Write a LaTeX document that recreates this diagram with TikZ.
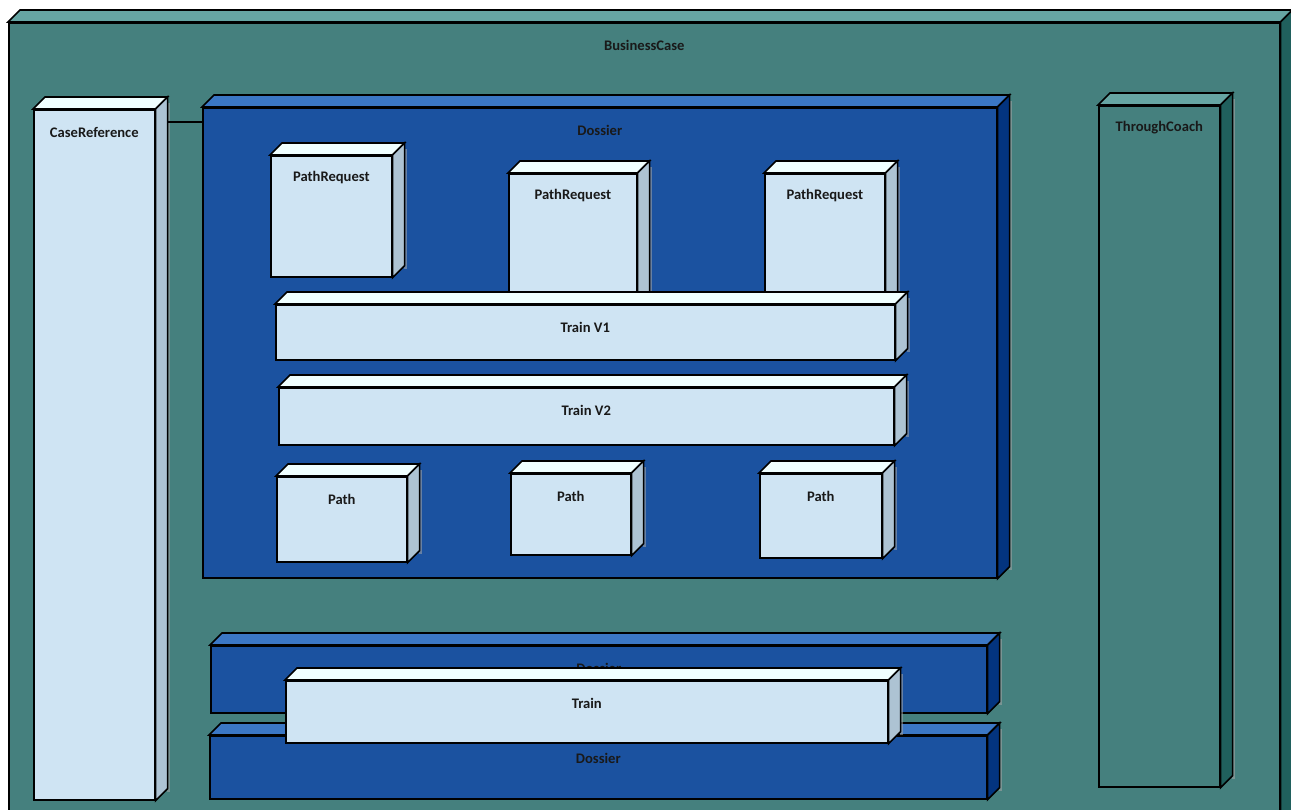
\documentclass[tikz,border=0pt]{standalone}
\usepackage{fontspec}
\setmainfont{Carlito}
\usetikzlibrary{calc}

\definecolor{tealFront}{HTML}{45807E}
\definecolor{tealTop}{HTML}{66A5A3}
\definecolor{tealSide}{HTML}{20605D}
\definecolor{blueFront}{HTML}{1B52A0}
\definecolor{blueTop}{HTML}{3B77C5}
\definecolor{blueSide}{HTML}{03347F}
\definecolor{lightFront}{HTML}{CFE4F3}
\definecolor{lightTop}{HTML}{F0FFFF}
\definecolor{lightSide}{HTML}{ADC3D3}

\tikzset{
    font=\bfseries\fontsize{14.6}{16}\selectfont,
    dep_edge/.style={draw=black, line width=1.6pt, line join=miter},
    dep_teal_front/.style={rectangle, dep_edge, fill=tealFront, inner sep=0pt},
    dep_teal_top/.style={dep_edge, fill=tealTop},
    dep_teal_side/.style={dep_edge, fill=tealSide},
    dep_blue_front/.style={rectangle, dep_edge, fill=blueFront, inner sep=0pt},
    dep_blue_top/.style={dep_edge, fill=blueTop},
    dep_blue_side/.style={dep_edge, fill=blueSide},
    dep_light_front/.style={rectangle, dep_edge, fill=lightFront, inner sep=0pt},
    dep_light_top/.style={dep_edge, fill=lightTop},
    dep_light_side/.style={dep_edge, fill=lightSide},
    dep_shadow/.style={fill=gray!70, opacity=0.55},
    dep_label/.style={text=black!90, inner sep=0pt},
    dep_link/.style={draw=black, line width=1.6pt}
}
% 3D deployment box: kind, name, x, y, width, height, text
\newcommand{\depnode}[7]{
    \fill[dep_shadow] (#3+#5+12.5,#4-6) rectangle (#3+#5+16,#4+#6-7);
    \node[#1_front, anchor=north west, minimum width=#5, minimum height=#6] (#2) at (#3,#4) {};
    \draw[#1_top] (#2.north west) -- ++(12,-12) -- ([shift={(12,-12)}]#2.north east) -- (#2.north east) -- cycle;
    \draw[#1_side] (#2.north east) -- ([shift={(12,-12)}]#2.north east) -- ([shift={(12,-12)}]#2.south east) -- (#2.south east) -- cycle;
    \node[dep_label] (#2_lbl) at ([yshift=-23pt]#2.north) {#7};
}

\begin{document}
\begin{tikzpicture}[x=1pt, y=-1pt]
\clip (0,0) rectangle (1291,809);
\fill[white] (0,0) rectangle (1291,809);

% --- outer frame ---
\depnode{dep_teal}{businessCase}{8}{22}{1271}{800}{BusinessCase}

% --- side columns ---
\depnode{dep_light}{caseRef}{33}{109}{121}{690}{CaseReference}
\depnode{dep_teal}{throughCoach}{1098}{105}{121}{681}{ThroughCoach}

% --- main dossier ---
\depnode{dep_blue}{dossier}{202}{107}{794}{470}{Dossier}
\depnode{dep_light}{pathReqA}{270}{155}{121}{121}{PathRequest}
\depnode{dep_light}{pathReqB}{508}{173}{128}{130}{PathRequest}
\depnode{dep_light}{pathReqC}{764}{173}{120}{130}{PathRequest}
\depnode{dep_light}{trainV1}{275}{304}{619}{55}{Train V1}
\depnode{dep_light}{trainV2}{278}{387}{615}{57}{Train V2}
\depnode{dep_light}{pathA}{276}{476}{130}{85}{Path}
\depnode{dep_light}{pathB}{510}{473}{120}{81}{Path}
\depnode{dep_light}{pathC}{759}{473}{122}{84}{Path}

% --- lower dossiers ---
\depnode{dep_blue}{dossierB}{210}{645}{776}{67}{Dossier}
\depnode{dep_blue}{dossierC}{209}{735}{777}{63}{Dossier}
\depnode{dep_light}{train}{285}{680}{602}{62}{Train}

% --- link ---
\draw[dep_link] ([shift={(12,13)}]caseRef.north east) -- ([yshift=-15pt]dossier.north west);

\end{tikzpicture}
\end{document}
